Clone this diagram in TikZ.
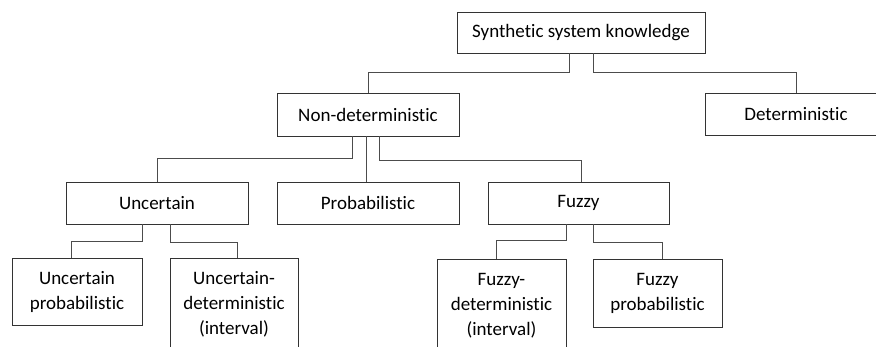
\documentclass[tikz,border=0pt]{standalone}
\usepackage{fontspec}
\setmainfont{Carlito}[Ligatures=NoCommon]
\begin{document}
\begin{tikzpicture}[x=1pt,y=1pt,
  box/.style={draw=black!80, line width=0.8pt, fill=white, inner sep=0pt, align=center,
    font=\fontsize{19}{25}\selectfont, text=black},
  conn/.style={draw=black!70, line width=0.8pt}]
\useasboundingbox (0,0) rectangle (876,-347);
\clip (0,0) rectangle (876,-347);
\fill[white] (0,0) rectangle (876,-347);
% nodes
\node[box, minimum width=248, minimum height=41] (root) at (581,-32.5) {Synthetic system knowledge};
\node[box, minimum width=182, minimum height=43] (nd) at (368,-114.5) {Non-deterministic};
\node[box, minimum width=182, minimum height=42] (det) at (796,-114) {Deterministic};
\node[box, minimum width=182, minimum height=42] (unc) at (157,-203) {Uncertain};
\node[box, minimum width=182, minimum height=42] (prob) at (368,-203) {Probabilistic};
\node[box, minimum width=181, minimum height=42] (fuz) at (578.5,-203) {Fuzzy};
\node[box, minimum width=130, minimum height=67] (up) at (77,-291.5) {Uncertain\\probabilistic};
\node[box, minimum width=128, minimum height=93] (ud) at (234,-304.5) {Uncertain-\\deterministic\\(interval)};
\node[box, minimum width=129, minimum height=93] (fd) at (501.5,-305.5) {Fuzzy-\\deterministic\\(interval)};
\node[box, minimum width=129, minimum height=68] (fp) at (657.5,-293) {Fuzzy\\probabilistic};
% connectors
\draw[conn] ([xshift=-12pt]root.south) -- ++(0,-19) -| (nd.north);
\draw[conn] ([xshift=12pt]root.south) -- ++(0,-19) -| (det.north);
\draw[conn] ([xshift=-16pt]nd.south) -- ++(0,-22) -| (unc.north);
\draw[conn] ([xshift=-2pt]nd.south) -- ([xshift=-2pt]prob.north);
\draw[conn] ([xshift=11pt]nd.south) -- ++(0,-24) -| ([xshift=2.5pt]fuz.north);
\draw[conn] ([xshift=-15pt]unc.south) -- ++(0,-17) -| ([xshift=-6pt]up.north);
\draw[conn] ([xshift=13pt]unc.south) -- ++(0,-18) -| ([xshift=3pt]ud.north);
\draw[conn] ([xshift=-12.5pt]fuz.south) -- ++(0,-16) -| ([xshift=-5.5pt]fd.north);
\draw[conn] ([xshift=14.5pt]fuz.south) -- ++(0,-18) -| ([xshift=4.5pt]fp.north);
\end{tikzpicture}
\end{document}
